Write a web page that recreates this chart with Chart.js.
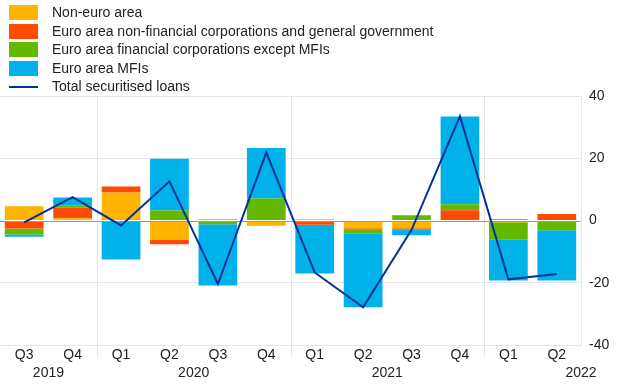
<!DOCTYPE html>
<html>
<head>
<meta charset="utf-8">
<script src="https://cdn.jsdelivr.net/npm/chart.js@4/dist/chart.umd.min.js"></script>
<style>
    html, body { margin: 0; padding: 0; background: #fff; }
    #wrap { position: relative; width: 620px; height: 387px; font-family: "Liberation Sans", Arial, sans-serif; }
    #legend { position: absolute; left: 0; top: 0; font-size: 14px; color: #222; }
    .item { position: absolute; left: 9px; height: 18px; white-space: nowrap; }
    .swatch { position: absolute; left: 0; top: 2px; width: 29px; height: 15px; }
    .swatch.line { top: 9px; height: 2px; }
    .label { position: absolute; left: 43px; top: 1px; }
</style>
</head>
<body>
<div id="wrap">
    <canvas id="chart" width="620" height="387"></canvas>
    <div id="legend"></div>
</div>
<script>
const quarters = ["Q3", "Q4", "Q1", "Q2", "Q3", "Q4", "Q1", "Q2", "Q3", "Q4", "Q1", "Q2"];
const years = ["2019", "2020", "2021", "2022"];
const yTicks = [-40, -20, 0, 20, 40];

const nonEuro = [4.6, 0.75, 9.0, -6.3, 0.3, -1.7, 0, -2.5, -2.5, 0, -0.6, 0];
const nfcGov = [-2.6, 3.4, 1.9, -1.3, 0.2, 0, -1.4, -0.3, -0.4, 3.3, 0.4, 2.1];
const finCorp = [-1.9, 0.75, 0, 3.2, -1.2, 7.1, 0.3, -1.3, 1.7, 1.9, -5.4, -3.1];
const mfis = [-0.75, 2.5, -12.5, 16.6, -19.7, 16.2, -15.6, -23.8, -1.8, 28.2, -13.3, -16.2];
const totalLoans = [-0.6, 7.5, -1.6, 12.6, -20.4, 21.8, -16.7, -27.9, -3.0, 33.5, -18.9, -17.2];

const seriesNames = [
    "Non-euro area",
    "Euro area non-financial corporations and general government",
    "Euro area financial corporations except MFIs",
    "Euro area MFIs",
    "Total securitised loans"
];
const colors = ["#FFB400", "#FF4B00", "#65B800", "#00B1EA", "#003299"];

// legend drawn as html over the canvas
const legend = document.getElementById("legend");
seriesNames.forEach((name, i) => {
    const isLine = i === 4;
    const item = document.createElement("div");
    item.className = "item";
    item.style.top = (3 + i * 18.6) + "px";
    item.innerHTML = `<span class="swatch${isLine ? " line" : ""}" style="background:${colors[i]}"></span><span class="label">${name}</span>`;
    legend.appendChild(item);
});

const gridColor = "#e6e6e6";
const fontFamily = '"Liberation Sans", Arial, sans-serif';

// year labels, vertical separators and zero line
const extrasPlugin = {
    id: "extras",
    beforeDatasetsDraw(chart) {
        const { ctx, chartArea, scales } = chart;
        const x = scales.x;
        ctx.save();
        ctx.strokeStyle = gridColor;
        ctx.lineWidth = 1;
        [2, 6, 10].forEach((i) => {
            const px = Math.round((x.getPixelForValue(i - 1) + x.getPixelForValue(i)) / 2) + 0.5;
            ctx.beginPath();
            ctx.moveTo(px, chartArea.top);
            ctx.lineTo(px, chartArea.bottom + 12);
            ctx.stroke();
        });
        ctx.restore();
    },
    beforeDatasetDraw(chart, args) {
        if (args.index !== 4) return;
        const { ctx, chartArea, scales } = chart;
        const y0 = Math.round(scales.y.getPixelForValue(0)) + 0.5;
        ctx.save();
        ctx.strokeStyle = "#9a9a9a";
        ctx.lineWidth = 1;
        ctx.beginPath();
        ctx.moveTo(chartArea.left, y0);
        ctx.lineTo(chartArea.right, y0);
        ctx.stroke();
        ctx.restore();
    },
    afterDraw(chart) {
        const { ctx, scales } = chart;
        const x = scales.x;
        const centres = [0.5, 3.5, 7.5, 11.5];
        ctx.save();
        ctx.fillStyle = "#222";
        ctx.font = "14px " + fontFamily;
        ctx.textAlign = "center";
        ctx.textBaseline = "middle";
        years.forEach((yr, i) => {
            const c = centres[i];
            const px = (x.getPixelForValue(Math.floor(c)) + x.getPixelForValue(Math.ceil(c))) / 2;
            ctx.fillText(yr, px, 373);
        });
        ctx.restore();
    }
};

const barData = [nonEuro, nfcGov, finCorp, mfis];
const datasets = barData.map((data, i) => ({
    type: "bar",
    label: seriesNames[i],
    data: data,
    backgroundColor: colors[i],
    borderWidth: 0,
    barPercentage: 0.8,
    categoryPercentage: 1,
    stack: "parts",
    order: 1,
}));
datasets.push({
    type: "line",
    label: seriesNames[4],
    data: totalLoans,
    borderColor: colors[4],
    borderWidth: 2,
    pointRadius: 0,
    tension: 0,
    fill: false,
    stack: "total",
    order: 0,
});

new Chart(document.getElementById("chart"), {
    data: { labels: quarters, datasets: datasets },
    plugins: [extrasPlugin],
    options: {
        responsive: false,
        animation: false,
        layout: { padding: { top: 96, left: 0, right: 0, bottom: 0 } },
        plugins: {
            legend: { display: false },
            tooltip: { enabled: false },
        },
        scales: {
            x: {
                stacked: true,
                grid: { display: false, drawTicks: false },
                border: { display: false },
                ticks: {
                    color: "#222",
                    font: { family: fontFamily, size: 14 },
                    padding: 2,
                    maxRotation: 0,
                    autoSkip: false,
                },
                afterFit(scale) { scale.height = 42; },
            },
            y: {
                stacked: true,
                position: "right",
                min: yTicks[0],
                max: yTicks[yTicks.length - 1],
                afterBuildTicks(scale) { scale.ticks = yTicks.map((v) => ({ value: v })); },
                grid: {
                    color: (ctx) => (ctx.tick && ctx.tick.value === 0 ? "transparent" : gridColor),
                    drawTicks: false,
                },
                border: { display: true, color: gridColor },
                ticks: {
                    color: "#222",
                    font: { family: fontFamily, size: 14 },
                    padding: 8,
                },
                afterFit(scale) { scale.width = 39; },
            },
        },
    },
});
</script>
</body>
</html>
